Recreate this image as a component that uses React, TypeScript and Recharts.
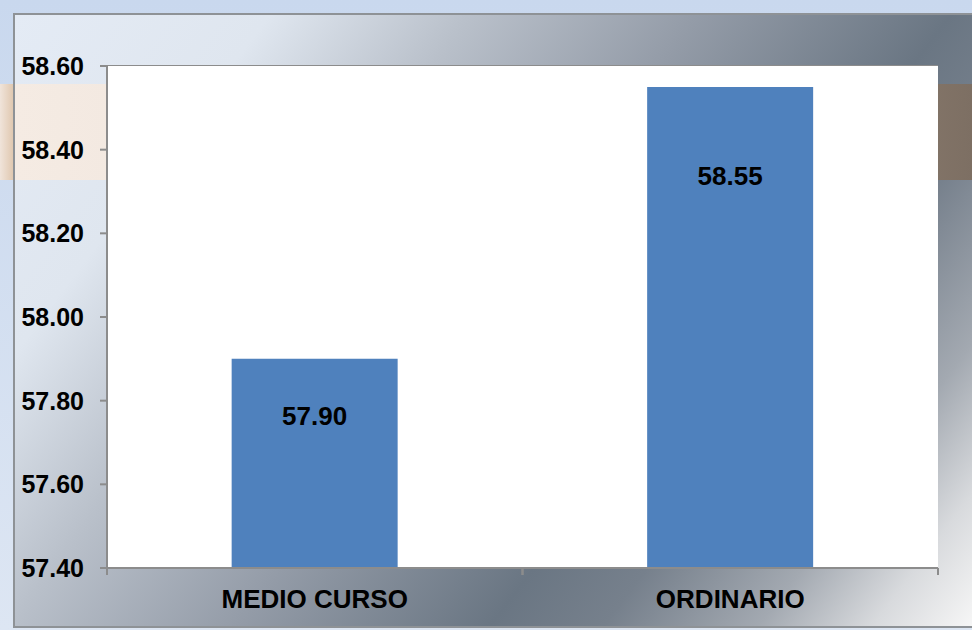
import React from 'react';
import { BarChart, Bar, XAxis, YAxis, CartesianGrid, LabelList } from 'recharts';

const categories = ['MEDIO CURSO', 'ORDINARIO'];
const scores = [57.9, 58.55];
const yTicks = [57.4, 57.6, 57.8, 58.0, 58.2, 58.4, 58.6];

const data = categories.map((name, i) => ({ name, value: scores[i] }));

const FONT = '"Liberation Sans", Arial, sans-serif';

// x-axis tick: Excel puts the tick marks on category boundaries, not centers
const CategoryTick = (props: any) => {
    const { x, y, payload } = props;
    const half = 831 / categories.length / 2;
    return (
        <g>
            <line x1={x - half} x2={x - half} y1={y - 8} y2={y - 1} stroke="#8c8c8c" strokeWidth={2} />
            <line x1={x + half} x2={x + half} y1={y - 8} y2={y - 1} stroke="#8c8c8c" strokeWidth={2} />
            <text x={x} y={y + 32} textAnchor="middle" fontFamily={FONT} fontWeight="bold" fontSize={26} fill="#000">
                {payload.value}
            </text>
        </g>
    );
};

const ValueLabel = (props: any) => {
    const { x, y, width, height, value } = props;
    return (
        <text x={x + width / 2} y={y + 32 + height * 0.118 + 9} textAnchor="middle"
              fontFamily={FONT} fontWeight="bold" fontSize={26} fill="#000">
            {Number(value).toFixed(2)}
        </text>
    );
};

const App: React.FC = () => {
    return (
        <div style={{ position: 'absolute', left: 0, top: 0, width: 972, height: 630, overflow: 'hidden',
                      background: 'linear-gradient(180deg, #c9d8ee 0%, #dde6f3 100%)' }}>
            {/* inner panel */}
            <div style={{ position: 'absolute', left: 13, top: 13, right: 0, bottom: 2,
                          borderTop: '2px solid #8e9296', borderLeft: '2px solid #8e9296', borderBottom: '2px solid #8e9296',
                          background: 'linear-gradient(127deg, #e4ebf5 0%, #dfe6ef 18%, #b9c0ca 32%, #949ca8 48%, #6a7683 66%, #76808c 74%, #a3a9b1 85%, #d8dadd 93%, #f6f6f6 100%)' }} />
            {/* beige band */}
            <div style={{ position: 'absolute', left: 15, top: 84, right: 0, height: 96,
                          background: 'linear-gradient(90deg, #f5ebe3 0%, #f2e8e0 15%, #c9b9ab 40%, #9e8e80 70%, #7d6f63 100%)' }} />
            <div style={{ position: 'absolute', left: 0, top: 84, width: 13, height: 96,
                          background: 'linear-gradient(90deg, #f0e4da, #e0c8b0)' }} />
            <div style={{ position: 'absolute', left: 0, top: 0 }}>
                <BarChart width={972} height={630} data={data} barCategoryGap="30%"
                          margin={{ top: 66, right: 34, bottom: 0, left: 0 }}>
                    <rect x={107} y={66} width={831} height={502} fill="#ffffff" />
                    <CartesianGrid vertical={false} horizontal={true} stroke="#8c8c8c" strokeWidth={2} />
                    <YAxis type="number" domain={[57.4, 58.6]} ticks={yTicks} width={107} interval={0}
                           allowDataOverflow
                           axisLine={{ stroke: '#8c8c8c', strokeWidth: 2 }}
                           tickLine={{ stroke: '#8c8c8c', strokeWidth: 2 }} tickSize={7} tickMargin={16}
                           tickFormatter={(v: number) => v.toFixed(2)}
                           tick={{ fontFamily: FONT, fontWeight: 'bold', fontSize: 25, fill: '#000' }} />
                    <XAxis dataKey="name" height={62} axisLine={{ stroke: '#8c8c8c', strokeWidth: 2 }}
                           tickLine={false} tick={<CategoryTick />} interval={0} />
                    <Bar dataKey="value" fill="#4f81bd" isAnimationActive={false}>
                        <LabelList dataKey="value" content={<ValueLabel />} />
                    </Bar>
                </BarChart>
            </div>
        </div>
    );
};

export default App;
